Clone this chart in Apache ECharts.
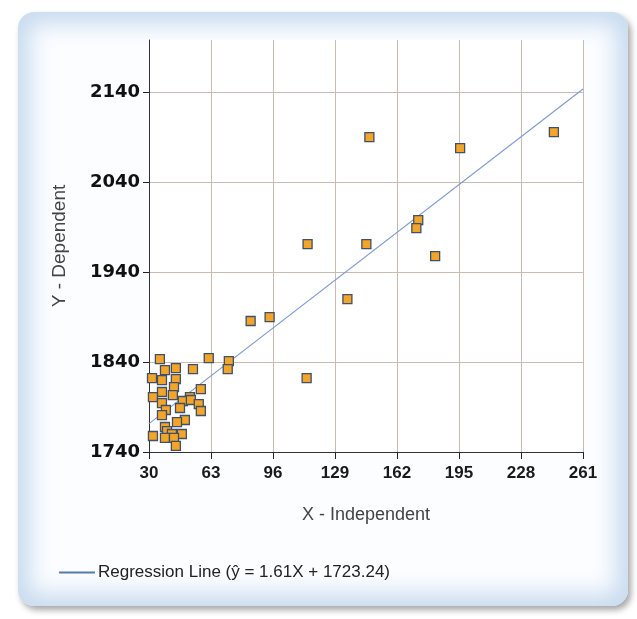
<!DOCTYPE html>
<html>
<head>
<meta charset="utf-8">
<script src="https://cdn.jsdelivr.net/npm/echarts@6/dist/echarts.min.js"></script>
<style>
html,body{margin:0;padding:0;background:#fff;}
#wrap{position:relative;width:637px;height:619px;overflow:hidden;background:#fff;}
#panel{position:absolute;left:18px;top:12px;width:610px;height:594px;border-radius:16px;
 background:#fbfdff;
 box-shadow:3px 4px 6px rgba(0,0,0,0.35), inset 0 0 22px 12px #c8dbef;}
#chart{position:absolute;left:0;top:0;width:637px;height:619px;}
</style>
</head>
<body>
<div id="wrap"><div id="panel"></div><div id="chart"></div></div>
<script>
// Data
const xValues = [35.8,38.5,44.3,53.4,61.8,31.6,36.9,44.3,43.3,57.6,36.9,42.7,32.1,51.8,48.0,52.3,56.5,36.9,39.0,46.5,57.6,36.9,49.1,44.9,38.5,32.1,39.6,42.2,47.5,38.5,43.3,44.3,72.5,71.9,84.1,94.2,113.9,114.4,135.6,145.7,147.3,173.3,172.3,182.3,195.6,245.5];
const yValues = [1843.3,1831.1,1833.3,1832.2,1844.4,1822.2,1820,1821.1,1812.2,1810,1806.7,1803.3,1801.1,1801.1,1796.7,1797.8,1793.3,1794.4,1786.7,1788.9,1785.6,1781.1,1775.6,1773.3,1767.8,1757.8,1763.3,1760,1760,1755.6,1755.6,1746.7,1841.1,1832.2,1885.6,1890,1822.2,1971.1,1910,1971.1,2090,1997.8,1988.9,1957.8,2077.8,2095.6];
const xTicks = [30,63,96,129,162,195,228,261];
const yTicks = [1740,1840,1940,2040,2140];
const slope = 1.61;
const intercept = 1723.24;
const legendName = 'Regression Line (\u0177 = 1.61X + 1723.24)';

const points = xValues.map((x,i)=>[x,yValues[i]]);
const lineData = [xTicks[0], xTicks[xTicks.length-1]].map(x=>[x, slope*x+intercept]);

const chart = echarts.init(document.getElementById('chart'), null, {renderer:'canvas'});
chart.setOption({
  backgroundColor:'transparent',
  animation:false,
  grid:{left:149,right:54,top:40,bottom:167,show:true,backgroundColor:'#ffffff',borderWidth:0},
  legend:{
    data:[{name:legendName}],
    left:54, top:559,
    itemWidth:36, itemHeight:2, icon:'rect',
    itemGap:8,
    textStyle:{fontFamily:'Liberation Sans',fontSize:17,color:'#222',padding:[0,0,0,-2]}
  },
  xAxis:{
    type:'value', min:30, max:261,
    name:'X - Independent', nameLocation:'middle', nameGap:54,
    nameTextStyle:{fontFamily:'Liberation Sans',fontSize:18,color:'#444'},
    axisLine:{show:true,onZero:false,lineStyle:{color:'#333',width:1}},
    axisTick:{show:true,length:7,inside:false,customValues:xTicks,lineStyle:{color:'#222'}},
    axisLabel:{customValues:xTicks,margin:13,fontFamily:'Liberation Sans',fontWeight:'bold',fontSize:17,color:'#1a1a1a',formatter:v=>String(v)},
    splitLine:{show:true,lineStyle:{color:'#cbbab2',width:1}}
  },
  yAxis:{
    type:'value', min:1740, max:2198,
    name:'Y - Dependent', nameLocation:'middle', nameGap:80, nameRotate:90,
    nameTextStyle:{fontFamily:'Liberation Sans',fontSize:19,color:'#444'},
    axisLine:{show:true,onZero:false,lineStyle:{color:'#333',width:1}},
    axisTick:{show:true,length:6,inside:false,customValues:yTicks,lineStyle:{color:'#222'}},
    axisLabel:{customValues:yTicks,margin:9,fontFamily:'DejaVu Sans',fontWeight:'bold',fontSize:18,color:'#111',formatter:v=>String(v)},
    splitLine:{show:true,lineStyle:{color:'#cbbab2',width:1}}
  },
  series:[
    {
      name:legendName, type:'line', data:lineData, symbol:'none',
      lineStyle:{color:'#7f9ccc',width:1.2}, itemStyle:{color:'#5878b0'}, z:3
    },
    {
      name:'points', type:'scatter', data:points, symbol:'rect', symbolSize:9,
      itemStyle:{color:'#f3a52a',borderColor:'#3f5068',borderWidth:1.3,opacity:1}, z:4
    }
  ]
});
</script>
</body>
</html>
